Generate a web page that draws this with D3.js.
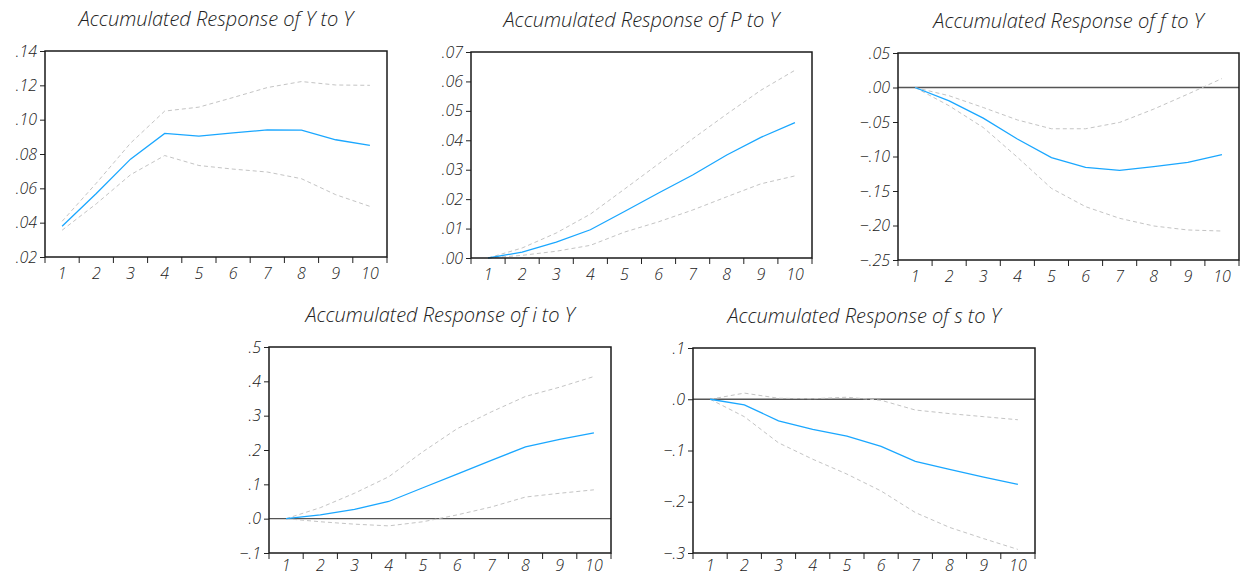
<!DOCTYPE html>
<html>
<head>
<meta charset="utf-8">
<script src="https://cdn.jsdelivr.net/npm/d3@7"></script>
<style>
  body { margin: 0; background: #fff; }
  text { font-family: "Open Sans", Lato, sans-serif; font-style: italic; font-weight: 300; fill: #222; }
</style>
</head>
<body>
<div id="chart"></div>
<script>
// periods on the x axis
let periods = [1, 2, 3, 4, 5, 6, 7, 8, 9, 10]

// Y to Y
let yyMean  = [.0379, .057, .077, .092, .0904, .0923, .094, .0939, .0883, .085]
let yyUpper = [.0408, .063, .0863, .105, .1073, .1129, .1187, .1222, .1202, .120]
let yyLower = [.0356, .051, .0679, .0791, .0733, .0712, .0695, .0656, .0563, .0495]
let yyTicks = [.02, .04, .06, .08, .10, .12, .14]

// P to Y
let pyMean  = [0, .002, .0054, .0096, .0158, .0221, .0282, .035, .041, .046]
let pyUpper = [0, .0034, .0085, .0149, .0234, .032, .0405, .0489, .057, .0638]
let pyLower = [0, .0009, .0023, .0043, .0088, .0123, .0163, .0208, .0252, .0279]
let pyTicks = [0, .01, .02, .03, .04, .05, .06, .07]

// f to Y
let fyMean  = [0, -.0193, -.0444, -.0747, -.1017, -.1157, -.12, -.1147, -.1084, -.0973]
let fyUpper = [0, -.012, -.029, -.047, -.0598, -.0598, -.0506, -.0313, -.0096, .013]
let fyLower = [0, -.0265, -.058, -.101, -.1462, -.1727, -.1896, -.2007, -.2065, -.208]
let fyTicks = [-.25, -.20, -.15, -.10, -.05, 0, .05]

// i to Y
let iyMean  = [0, .011, .027, .05, .09, .13, .17, .209, .231, .25]
let iyUpper = [0, .032, .074, .122, .195, .262, .311, .356, .383, .414]
let iyLower = [0, -.009, -.016, -.021, -.009, .011, .034, .063, .074, .084]
let iyTicks = [-.1, 0, .1, .2, .3, .4, .5]

// s to Y
let syMean  = [0, -.011, -.042, -.059, -.072, -.092, -.121, -.137, -.152, -.166]
let syUpper = [0, .012, .002, .001, .004, -.002, -.021, -.028, -.034, -.04]
let syLower = [0, -.034, -.085, -.117, -.146, -.179, -.221, -.25, -.272, -.293]
let syTicks = [-.3, -.2, -.1, 0, .1]

let svg = d3.select('#chart').append('svg').attr('width', 1241).attr('height', 578)

// strip the leading zero the way EViews prints it
function fmt(digits) {
    let f = d3.format('.' + digits + 'f')
    return v => f(Math.abs(v) < 1e-9 ? 0 : v).replace('0.', '.')
}

function drawPanel(p) {
    let g = svg.append('g').attr('transform', `translate(${p.left},${p.top})`)
    let w = p.width, h = p.height

    let x = d3.scaleBand().domain(periods).range([0, w])
    let y = d3.scaleLinear().domain(d3.extent(p.ticks)).range([h, 0])
    let cx = t => x(t) + x.bandwidth() / 2

    // title
    g.append('text')
        .attr('x', w / 2).attr('y', -25)
        .attr('text-anchor', 'middle')
        .style('font-size', '20px')
        .text(p.title)

    // zero line
    if (y.domain()[0] < 0 && y.domain()[1] > 0) {
        g.append('line')
            .attr('x1', 0).attr('x2', w)
            .attr('y1', y(0)).attr('y2', y(0))
            .attr('stroke', '#555').attr('stroke-width', 1.3)
    }

    let line = d3.line().x((d, i) => cx(periods[i])).y(d => y(d))

    ;[p.upper, p.lower].forEach(s => {
        g.append('path').datum(s)
            .attr('d', line)
            .attr('fill', 'none')
            .attr('stroke', '#c4c4c4')
            .attr('stroke-width', 1)
            .attr('stroke-dasharray', '4,3')
    })

    g.append('path').datum(p.mean)
        .attr('d', line)
        .attr('fill', 'none')
        .attr('stroke', '#1aa7ff')
        .attr('stroke-width', 1.3)

    // y axis
    let yAxis = g.append('g')
        .call(d3.axisLeft(y).tickValues(p.ticks).tickFormat(fmt(p.digits)).tickSize(5).tickPadding(3))
    yAxis.select('.domain').remove()
    yAxis.selectAll('line').attr('stroke', '#222')
    yAxis.selectAll('text').style('font-size', '16px').attr('fill', '#222')

    // x axis: labels at band centres, ticks at band edges
    let xAxis = g.append('g').attr('transform', `translate(0,${h})`)
        .call(d3.axisBottom(x).tickSize(0).tickPadding(p.labelPad))
    xAxis.select('.domain').remove()
    xAxis.selectAll('text').style('font-size', '16px').attr('fill', '#222')

    g.append('g').selectAll('line')
        .data(d3.range(periods.length + 1))
        .join('line')
        .attr('x1', i => i * x.step()).attr('x2', i => i * x.step())
        .attr('y1', h).attr('y2', h + 6)
        .attr('stroke', '#222')

    // frame
    g.append('rect')
        .attr('width', w).attr('height', h)
        .attr('fill', 'none')
        .attr('stroke', '#1a1a1a')
        .attr('stroke-width', 1.5)
}

drawPanel({ title: 'Accumulated Response of Y to Y', left: 45, top: 51, width: 342, height: 206, labelPad: 11,
    ticks: yyTicks, digits: 2, mean: yyMean, upper: yyUpper, lower: yyLower })
drawPanel({ title: 'Accumulated Response of P to Y', left: 471, top: 52, width: 341, height: 206, labelPad: 11,
    ticks: pyTicks, digits: 2, mean: pyMean, upper: pyUpper, lower: pyLower })
drawPanel({ title: 'Accumulated Response of f to Y', left: 898, top: 53, width: 341, height: 207, labelPad: 11,
    ticks: fyTicks, digits: 2, mean: fyMean, upper: fyUpper, lower: fyLower })
drawPanel({ title: 'Accumulated Response of i to Y', left: 269, top: 347, width: 342, height: 206, labelPad: 7,
    ticks: iyTicks, digits: 1, mean: iyMean, upper: iyUpper, lower: iyLower })
drawPanel({ title: 'Accumulated Response of s to Y', left: 693, top: 348, width: 342, height: 205, labelPad: 7,
    ticks: syTicks, digits: 1, mean: syMean, upper: syUpper, lower: syLower })
</script>
</body>
</html>
